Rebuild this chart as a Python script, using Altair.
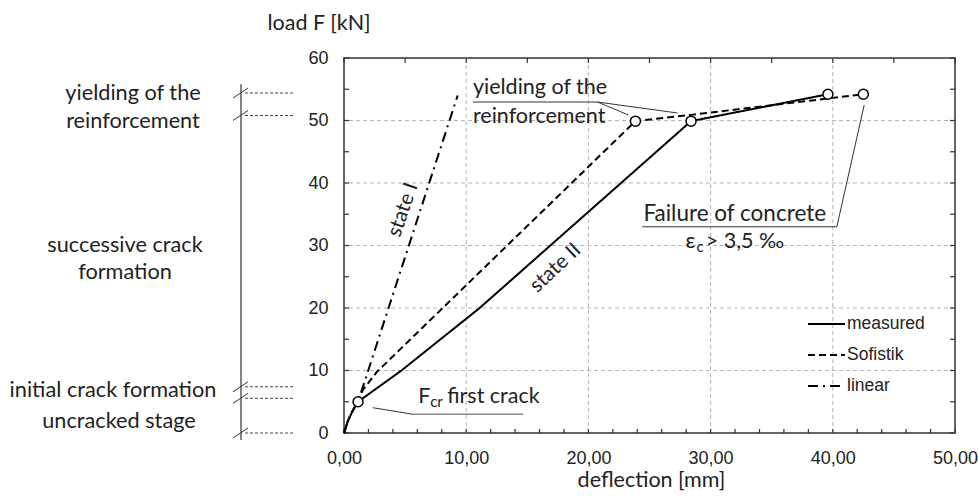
import altair as alt
import pandas as pd

# ---- load-deflection readings (deflection in mm, load in kN) ----
series_names = ["measured", "Sofistik", "linear"]

measured_x = [0.0, 0.33, 0.75, 1.15, 4.7, 11.1, 28.4, 39.6]
measured_y = [0.0, 2.0, 3.7, 5.0, 10.0, 20.0, 49.9, 54.2]

sofistik_x = [0.0, 0.33, 0.75, 1.1, 1.55, 2.7, 23.85, 28.4, 42.5]
sofistik_y = [0.0, 2.0, 3.7, 5.0, 6.9, 9.8, 49.9, 50.9, 54.2]

linear_x = [0.0, 0.33, 0.75, 1.15, 9.3]
linear_y = [0.0, 2.0, 3.7, 5.0, 54.0]

# characteristic points: first crack, yielding, failure
marker_x = [1.15, 28.4, 39.6, 23.85, 42.5]
marker_y = [5.0, 49.9, 54.2, 49.9, 54.2]

# load levels bounding the stages on the left-hand scale
stage_levels = [0.0, 5.55, 7.4, 50.8, 54.4]
stage_span = [-1.1, 55.8]

x_ticks = [0, 10, 20, 30, 40, 50]
y_ticks = [0, 10, 20, 30, 40, 50, 60]
x_grid = [10, 20, 30, 40]
y_grid = [10, 20, 30, 40, 50]
x_minor = list(range(0, 51, 2))
x_top = list(range(0, 51, 5))
y_minor = list(range(0, 61, 5))

# leader lines of the annotations (x, y) -> (x2, y2)
leader_x = [10.55, 20.74, 20.74, 24.4, 40.33, 5.66, 5.66]
leader_y = [52.96, 52.96, 52.96, 33.0, 33.0, 2.99, 2.99]
leader_x2 = [20.74, 23.28, 27.3, 40.33, 42.57, 14.67, 2.35]
leader_y2 = [52.96, 50.88, 51.2, 33.0, 52.5, 2.99, 4.05]
leader_grey = [False, False, False, False, False, True, False]

CAL = "Lato"
ARIAL = "Liberation Sans"
INK = "#222222"
W, H = 611, 375

xs = alt.Scale(domain=[0, 50], nice=False, zero=False)
ys = alt.Scale(domain=[0, 60], nice=False, zero=False)

# one axis definition shared by every layer so that they merge cleanly
XA = alt.Axis(
    values=x_ticks, labelExpr="replace(format(datum.value, '.2f'), '.', ',')",
    grid=False, ticks=False, tickSize=0, domain=False, labelFlush=False,
    labelFont=ARIAL, labelFontSize=18, labelColor=INK, labelPadding=16,
    title="deflection [mm]", titleFont=CAL, titleFontSize=21.5,
    titleFontWeight="normal", titleColor=INK, titleY=47, titleX=307,
    titleBaseline="middle")
YA = alt.Axis(
    values=y_ticks, format="d", grid=False, ticks=False, tickSize=0,
    domain=False, labelFlush=False, labelFont=ARIAL, labelFontSize=18,
    labelColor=INK, labelPadding=16, title="load F [kN]", titleFont=CAL,
    titleFontSize=21.5, titleFontWeight="normal", titleColor=INK, titleAngle=0,
    titleX=-77, titleY=-35, titleAlign="left", titleBaseline="middle")


def X(field):
    return alt.X(field, scale=xs, axis=XA)


def Y(field):
    return alt.Y(field, scale=ys, axis=YA)


dash_range = [[1, 0], [7, 4], [10, 5, 2, 5]]

curves = pd.concat([
    pd.DataFrame({"series": name, "x": xv, "y": yv, "i": range(len(xv))})
    for name, xv, yv in [
        ("measured", measured_x, measured_y),
        ("Sofistik", sofistik_x, sofistik_y),
        ("linear", linear_x, linear_y),
    ]
])

# dashed grid
grid_v = alt.Chart(pd.DataFrame({"x": x_grid})).mark_rule(
    color="#b4b4b4", strokeWidth=1, strokeDash=[4, 3]
).encode(x=X("x:Q"))
grid_h = alt.Chart(pd.DataFrame({"y": y_grid})).mark_rule(
    color="#b4b4b4", strokeWidth=1, strokeDash=[4, 3]
).encode(y=Y("y:Q"))

# inward tick marks on all four sides of the frame
tick_style = dict(color="#333333", strokeWidth=1.2)
ticks_bottom = alt.Chart(pd.DataFrame({"x": x_minor})).mark_rule(**tick_style).encode(
    x=X("x:Q"), y=alt.value(H), y2=alt.value(H - 4))
ticks_top = alt.Chart(pd.DataFrame({"x": x_top})).mark_rule(**tick_style).encode(
    x=X("x:Q"), y=alt.value(0), y2=alt.value(5))
ticks_left = alt.Chart(pd.DataFrame({"y": y_minor})).mark_rule(**tick_style).encode(
    y=Y("y:Q"), x=alt.value(0), x2=alt.value(5))
ticks_right = alt.Chart(pd.DataFrame({"y": y_minor})).mark_rule(**tick_style).encode(
    y=Y("y:Q"), x=alt.value(W), x2=alt.value(W - 5))

# the three load-deflection curves
lines = alt.Chart(curves).mark_line(color="black", strokeWidth=2).encode(
    x=X("x:Q"),
    y=Y("y:Q"),
    strokeDash=alt.StrokeDash("series:N", scale=alt.Scale(
        domain=series_names, range=dash_range), legend=None),
    detail="series:N",
    order="i:Q",
)

markers = alt.Chart(pd.DataFrame({"x": marker_x, "y": marker_y})).mark_point(
    filled=True, fill="white", stroke="black", strokeWidth=1.5, size=100, opacity=1
).encode(x=X("x:Q"), y=Y("y:Q"))

leaders_df = pd.DataFrame({"x": leader_x, "y": leader_y, "x2": leader_x2,
                           "y2": leader_y2, "grey": leader_grey})
leaders = alt.Chart(leaders_df).mark_rule().encode(
    x=X("x:Q"), y=Y("y:Q"), x2="x2:Q", y2="y2:Q",
    color=alt.Color("grey:N", scale=alt.Scale(domain=[False, True],
                    range=["#333333", "#8a8a8a"]), legend=None),
    strokeWidth=alt.StrokeWidth("grey:N", scale=alt.Scale(domain=[False, True],
                                range=[1, 1.6]), legend=None),
)


def note(text, x, y, size=21.5, angle=0, align="left", baseline="alphabetic"):
    return alt.Chart(pd.DataFrame({"t": [text], "x": [x], "y": [y]})).mark_text(
        font=CAL, fontSize=size, color=INK, align=align, baseline=baseline,
        angle=angle
    ).encode(x=X("x:Q"), y=Y("y:Q"), text="t:N")


notes = [
    note("yielding of the", 10.55, 54.2),
    note("reinforcement", 10.55, 49.65),
    note("Failure of concrete", 24.5, 33.9, size=22.5),
    note("F", 6.07, 4.75),
    note("cr", 7.05, 4.2, size=15),
    note("first crack", 8.45, 4.75),
    note("ε", 27.95, 29.55),
    note("c", 28.85, 29.0, size=15),
    note("> 3,5 ‰", 29.6, 29.55),
    note("state I", 4.84, 35.7, size=20.5, angle=289, align="center", baseline="middle"),
    note("state II", 17.3, 26.4, size=20.5, angle=317, align="center", baseline="middle"),
]

# stage scale to the left of the load axis
span = alt.Chart(pd.DataFrame({"y": [stage_span[0]], "y2": [stage_span[1]]})).mark_rule(
    color="#333333", strokeWidth=1.2
).encode(x=alt.value(-103), y=Y("y:Q"), y2="y2:Q")

lv = pd.DataFrame({"y": stage_levels})
lv["lo"] = lv["y"] - 0.8
lv["hi"] = lv["y"] + 0.8
slashes = alt.Chart(lv).mark_rule(color="#333333", strokeWidth=1).encode(
    x=alt.value(-111), x2=alt.value(-96), y=Y("lo:Q"), y2="hi:Q")
dotted = alt.Chart(lv).mark_rule(color="#444444", strokeWidth=1, strokeDash=[3, 2]).encode(
    x=alt.value(-99), x2=alt.value(-49), y=Y("y:Q"))


def side_label(text, y, dx):
    return alt.Chart(pd.DataFrame({"t": [text], "y": [y]})).mark_text(
        font=CAL, fontSize=21.7, color=INK, align="center", baseline="alphabetic"
    ).encode(x=alt.value(dx), y=Y("y:Q"), text="t:N")


side = [
    side_label("yielding of the", 53.3, -211),
    side_label("reinforcement", 48.75, -211),
    side_label("successive crack", 29.0, -219),
    side_label("formation", 24.6, -219),
    side_label("initial crack formation", 5.8, -231),
    side_label("uncracked stage", 0.85, -225),
]

# legend entries: line sample + label
legend_y = [266, 297, 328]
legend_layers = []
for name, ly, dash in zip(series_names, legend_y, dash_range):
    row = pd.DataFrame({"series": [name]})
    legend_layers.append(alt.Chart(row).mark_rule(
        color="black", strokeWidth=2, strokeDash=dash
    ).encode(x=alt.value(464), x2=alt.value(501), y=alt.value(ly)))
    legend_layers.append(alt.Chart(row).mark_text(
        font=ARIAL, fontSize=17.5, color=INK, align="left", baseline="middle"
    ).encode(x=alt.value(503), y=alt.value(ly), text="series:N"))

chart = alt.layer(
    grid_v, grid_h, ticks_bottom, ticks_top, ticks_left, ticks_right,
    lines, markers, leaders, *notes, span, slashes, dotted, *side, *legend_layers
).properties(
    width=W, height=H,
    autosize=alt.AutoSizeParams(type="none"),
    padding={"left": 344, "top": 58, "right": 23, "bottom": 65},
    background="white",
).configure_view(stroke="#333333", strokeWidth=1.5)

chart.save("out.html", embed_options={"renderer": "svg", "actions": False})
